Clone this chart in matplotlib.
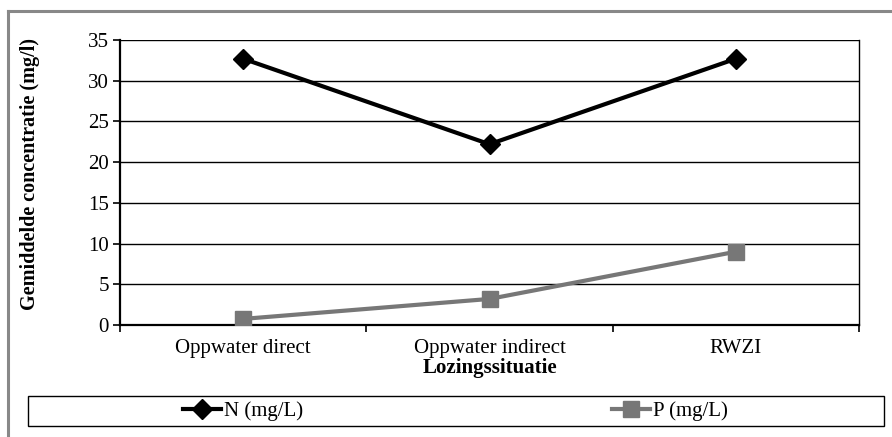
import numpy as np
import matplotlib.pyplot as plt
from matplotlib.lines import Line2D
from matplotlib.patches import Rectangle

plt.rcParams['font.family'] = ['Liberation Serif', 'DejaVu Serif']

categories = ['Oppwater direct', 'Oppwater indirect', 'RWZI']
n_values = [32.7, 22.2, 32.7]
p_values = [0.75, 3.2, 9.0]

W, H = 892, 437
fig = plt.figure(figsize=(W / 100, H / 100), dpi=100)
ax = fig.add_axes([120 / W, 1 - 325 / H, (859 - 120) / W, (325 - 40) / H])

x = np.arange(len(categories))
ln_n, = ax.plot(x, n_values, color='black', lw=3, marker='D', ms=10,
                label='N (mg/L)', zorder=3)
ln_p, = ax.plot(x, p_values, color='#777777', lw=3, marker='s', ms=12,
                label='P (mg/L)', zorder=3)

ax.set_xlim(-0.5, 2.5)
ax.set_ylim(0, 35)
ax.set_yticks(np.arange(0, 36, 5))
ax.set_xticks([-0.5, 0.5, 1.5, 2.5])
ax.set_xticklabels([])
ax.set_xticks(x, minor=True)
ax.set_xticklabels(categories, minor=True)
ax.tick_params(axis='x', which='minor', length=0, pad=10, labelsize=15)
ax.tick_params(axis='x', which='major', length=5, width=1.2, direction='out')
ax.tick_params(axis='y', length=5, width=1.2, direction='out', labelsize=15, pad=3)
ax.grid(axis='y', color='black', lw=1)
ax.set_axisbelow(True)
for s in ['left', 'bottom']:
    ax.spines[s].set_linewidth(1.6)
ax.spines['right'].set_linewidth(1)
ax.spines['top'].set_visible(False)

ax.set_xlabel('Lozingssituatie', fontweight='bold', fontsize=15, labelpad=0)
ax.set_ylabel('Gemiddelde concentratie (mg/l)', fontweight='bold', fontsize=14.5)
ax.yaxis.set_label_coords(-0.108, 0.53)

# legend box
fig.add_artist(Rectangle((28 / W, 1 - 426 / H), (884 - 28) / W, 30 / H,
                         transform=fig.transFigure, fill=False,
                         edgecolor='black', lw=1))
fig.legend([ln_n], ['N (mg/L)'], loc='center left',
           bbox_to_anchor=(183 / W, 1 - 411 / H), frameon=False,
           fontsize=15, handlelength=1.8, handletextpad=0.15,
           borderpad=0, borderaxespad=0)
fig.legend([ln_p], ['P (mg/L)'], loc='center left',
           bbox_to_anchor=(612 / W, 1 - 411 / H), frameon=False,
           fontsize=15, handlelength=1.8, handletextpad=0.15,
           borderpad=0, borderaxespad=0)

# outer chart border
fig.add_artist(Line2D([8 / W, 8 / W], [0, 1 - 11 / H], transform=fig.transFigure,
                      color='#888888', lw=2.2))
fig.add_artist(Line2D([8 / W, 1], [1 - 11 / H, 1 - 11 / H], transform=fig.transFigure,
                      color='#888888', lw=2.2))

fig.savefig('out.png', dpi=100)
